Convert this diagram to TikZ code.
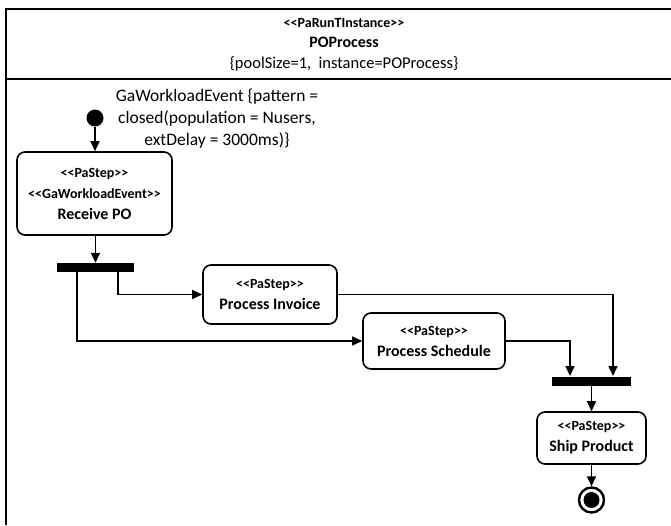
\documentclass[tikz,border=0pt]{standalone}
\usepackage{fontspec}
\setmainfont{Carlito}
\usetikzlibrary{arrows.meta}
\newcommand\stereofont{\fontsize{14}{21}\selectfont\bfseries}
\newcommand\namefont{\fontsize{16}{21}\selectfont\bfseries}
\newcommand\plainfont{\fontsize{16.5}{20}\selectfont}
\tikzset{
  stepbox/.style={draw, line width=1.6pt, rounded corners=8pt, align=center, inner sep=0pt, font=\fontsize{14}{21}\selectfont},
  barnode/.style={fill=black, draw=none, minimum height=9pt, inner sep=0pt},
  flow/.style={line width=1.5pt, -{Triangle[length=10pt,width=9pt]}},
  frameline/.style={line width=1.6pt},
  txt/.style={inner sep=0pt, align=center}
}
\begin{document}
\begin{tikzpicture}[x=1pt,y=-1pt]
\useasboundingbox (0,0) rectangle (671,525);
% frame
\draw[frameline] (6,525) -- (6,9) -- (671,9);
\draw[line width=1.2pt] (6,79) -- (671,79);
% header
\node[txt, font=\stereofont] (ster) at (344,23) {<{}<PaRunTInstance>{}>};
\node[txt, font=\namefont] (pname) at (344,42) {POProcess};
\node[txt, font=\plainfont] (pparam) at (344,64) {\{poolSize=1,\ \ instance=POProcess\}};
% workload label
\node[txt, font=\fontsize{17.5}{22}\selectfont] (wl) at (217,119) {GaWorkloadEvent \{pattern =\\closed(population = Nusers,\\extDelay = 3000ms)\}};
% initial
\node[circle, fill=black, minimum size=17pt, inner sep=0pt] (init) at (95,118) {};
% receive PO
\node[stepbox, minimum width=155pt, minimum height=83pt] (rpo) at (94.5,193.5)
  {{\stereofont <{}<PaStep>{}>}\\{\stereofont <{}<GaWorkloadEvent>{}>}\\{\namefont Receive PO}};
% fork
\node[barnode, minimum width=77pt] (fork) at (95.5,267.5) {};
% process invoice
\node[stepbox, minimum width=134pt, minimum height=59pt] (pi) at (270,294.5)
  {{\stereofont <{}<PaStep>{}>}\\{\namefont Process Invoice}};
% process schedule
\node[stepbox, minimum width=142pt, minimum height=56pt] (ps) at (434,341)
  {{\stereofont <{}<PaStep>{}>}\\{\namefont Process Schedule}};
% join
\node[barnode, minimum width=79pt] (join) at (591.5,381) {};
% ship product
\node[stepbox, minimum width=109pt, minimum height=52pt] (sp) at (591.5,438)
  {{\stereofont <{}<PaStep>{}>}\\{\namefont Ship Product}};
% final
\node[circle, draw, line width=2.4pt, minimum size=25pt, inner sep=0pt] (fin) at (591.5,500) {};
\node[circle, fill=black, minimum size=16pt, inner sep=0pt] (finc) at (591.5,500) {};
% coordinates on bars
\coordinate (forkA) at (118,272);
\coordinate (forkB) at (77,272);
\coordinate (joinA) at (613,376);
\coordinate (joinB) at (570,376);
% connectors
\draw[flow] (init) -- (rpo.north -| init);
\draw[flow] (rpo.south -| fork) -- (fork.north);
\draw[flow] (forkA) |- (pi.west);
\draw[flow] (forkB) |- (ps.west);
\draw[flow] (pi.east) -| (joinA);
\draw[flow] (ps.east) -| (joinB);
\draw[flow] (join.south) -- (sp.north);
\draw[flow] (sp.south) -- (fin.north);
\end{tikzpicture}
\end{document}
